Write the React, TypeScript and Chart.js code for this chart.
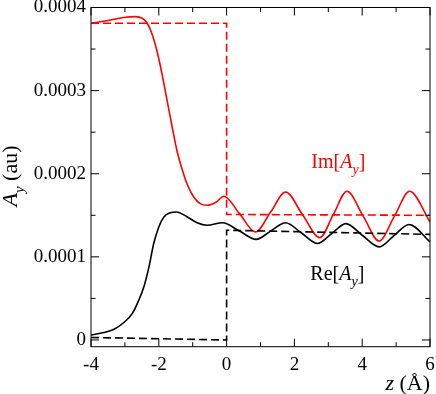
import React, { useEffect, useRef } from "react";
import { Chart, registerables } from "chart.js";

Chart.register(...registerables);

// ---- data (A_y in au, z in Angstrom) ----
const imZ = [-4, -3.42, -3.03, -2.69, -2.49, -2.34, -2.19, -2.05, -1.9, -1.75, -1.6, -1.46, -1.31, -1.16, -0.97, -0.78, -0.58, -0.3, -0.08, 0.38, 0.85, 1.3, 1.74, 2.25, 2.75, 3.15, 3.55, 4.03, 4.5, 4.95, 5.4, 6.0];
const imA = [3.81e-4, 3.85e-4, 3.88e-4, 3.89e-4, 3.87e-4, 3.81e-4, 3.67e-4, 3.47e-4, 3.19e-4, 2.87e-4, 2.55e-4, 2.27e-4, 2.05e-4, 1.87e-4, 1.72e-4, 1.64e-4, 1.62e-4, 1.66e-4, 1.73e-4, 1.52e-4, 1.3e-4, 1.54e-4, 1.78e-4, 1.5e-4, 1.23e-4, 1.51e-4, 1.79e-4, 1.49e-4, 1.19e-4, 1.49e-4, 1.79e-4, 1.42e-4];

const reZ = [-4, -3.62, -3.32, -3.03, -2.78, -2.59, -2.44, -2.29, -2.15, -2.0, -1.85, -1.66, -1.48, -1.16, -0.87, -0.58, -0.12, 0.38, 0.87, 1.3, 1.74, 2.2, 2.68, 3.1, 3.52, 4.0, 4.5, 4.95, 5.38, 6.0];
const reA = [0.06e-4, 0.09e-4, 0.13e-4, 0.21e-4, 0.32e-4, 0.48e-4, 0.64e-4, 0.88e-4, 1.16e-4, 1.36e-4, 1.48e-4, 1.53e-4, 1.54e-4, 1.48e-4, 1.41e-4, 1.38e-4, 1.41e-4, 1.31e-4, 1.21e-4, 1.31e-4, 1.41e-4, 1.29e-4, 1.16e-4, 1.28e-4, 1.4e-4, 1.26e-4, 1.12e-4, 1.26e-4, 1.39e-4, 1.18e-4];

const imStepZ = [-4, 0, 0, 6];
const imStepA = [3.81e-4, 3.81e-4, 1.51e-4, 1.5e-4];
const reStepZ = [-4, 0, 0, 6];
const reStepA = [0.03e-4, 0.0, 1.32e-4, 1.27e-4];

const xTicks = [-4, -2, 0, 2, 4, 6];
const xMinorTicks = [-3, -1, 1, 3, 5];
const yTicks = [0, 1e-4, 2e-4, 3e-4, 4e-4];
const yTickLabels = ["0", "0.0001", "0.0002", "0.0003", "0.0004"];
const yMinorTicks = [0.5e-4, 1.5e-4, 2.5e-4, 3.5e-4];

const xRange = [-4, 6];
const yRange = [-0.081e-4, 4e-4];

const imLabelPos = [2.5, 2.07e-4];
const reLabelPos = [2.47, 0.72e-4];

const SERIF = '"Liberation Serif", "DejaVu Serif", serif';

type Part = { t: string; it?: boolean; sub?: boolean };

function partFont(p: Part, size: number) {
  const s = p.sub ? Math.round(size * 0.7) : size;
  return `${p.it ? "italic " : ""}${s}px ${SERIF}`;
}

function richWidth(ctx: CanvasRenderingContext2D, parts: Part[], size: number) {
  let w = 0;
  for (const p of parts) {
    ctx.font = partFont(p, size);
    w += ctx.measureText(p.t).width;
  }
  return w;
}

function drawRich(ctx: CanvasRenderingContext2D, parts: Part[], x: number, y: number, size: number, color: string) {
  ctx.fillStyle = color;
  ctx.textBaseline = "alphabetic";
  ctx.textAlign = "left";
  let cx = x;
  for (const p of parts) {
    ctx.font = partFont(p, size);
    ctx.fillText(p.t, cx, p.sub ? y + size * 0.3 : y);
    cx += ctx.measureText(p.t).width;
  }
}

const framePlugin = {
  id: "framePlugin",
  afterDraw(chart: any) {
    const ctx: CanvasRenderingContext2D = chart.ctx;
    const { left, right, top, bottom } = chart.chartArea;
    const xs = chart.scales.x;
    const ys = chart.scales.y;
    ctx.save();
    ctx.strokeStyle = "#000";
    ctx.lineWidth = 1;
    ctx.strokeRect(left, top, right - left, bottom - top);
    ctx.beginPath();
    const major = 8;
    const minor = 4.5;
    for (const v of xTicks) {
      const px = xs.getPixelForValue(v);
      ctx.moveTo(px, bottom); ctx.lineTo(px, bottom - major);
      ctx.moveTo(px, top); ctx.lineTo(px, top + major);
    }
    for (const v of xMinorTicks) {
      const px = xs.getPixelForValue(v);
      ctx.moveTo(px, bottom); ctx.lineTo(px, bottom - minor);
      ctx.moveTo(px, top); ctx.lineTo(px, top + minor);
    }
    for (const v of yTicks) {
      const py = ys.getPixelForValue(v);
      ctx.moveTo(left, py); ctx.lineTo(left + major, py);
      ctx.moveTo(right, py); ctx.lineTo(right - major, py);
    }
    for (const v of yMinorTicks) {
      const py = ys.getPixelForValue(v);
      ctx.moveTo(left, py); ctx.lineTo(left + minor, py);
      ctx.moveTo(right, py); ctx.lineTo(right - minor, py);
    }
    ctx.stroke();

    // series labels
    const imParts: Part[] = [{ t: "Im[" }, { t: "A", it: true }, { t: "y", it: true, sub: true }, { t: "]" }];
    const reParts: Part[] = [{ t: "Re[" }, { t: "A", it: true }, { t: "y", it: true, sub: true }, { t: "]" }];
    drawRich(ctx, imParts, xs.getPixelForValue(imLabelPos[0]), ys.getPixelForValue(imLabelPos[1]), 20, "#ff0000");
    drawRich(ctx, reParts, xs.getPixelForValue(reLabelPos[0]), ys.getPixelForValue(reLabelPos[1]), 20, "#000");

    // x title
    const xParts: Part[] = [{ t: "z", it: true }, { t: " (Å)" }];
    const xw = richWidth(ctx, xParts, 22);
    drawRich(ctx, xParts, right - xw, 390, 22, "#000");

    // y title
    const yParts: Part[] = [{ t: "A", it: true }, { t: "y", it: true, sub: true }, { t: " (au)" }];
    const yw = richWidth(ctx, yParts, 22);
    ctx.translate(17, 176);
    ctx.rotate(-Math.PI / 2);
    drawRich(ctx, yParts, -yw / 2, 0, 22, "#000");
    ctx.restore();
  },
};

function pts(xs: number[], ys: number[]) {
  return xs.map((x, i) => ({ x, y: ys[i] }));
}

function zeroPad(s: any) {
  s.paddingTop = 0;
  s.paddingBottom = 0;
  s.paddingLeft = 0;
  s.paddingRight = 0;
}

export default function App() {
  const ref = useRef<HTMLCanvasElement | null>(null);
  useEffect(() => {
    if (!ref.current) return;
    const tickFont = { family: SERIF, size: 19 };
    const chart = new Chart(ref.current, {
      type: "scatter",
      data: {
        datasets: [
          {
            data: pts(imStepZ, imStepA),
            showLine: true,
            borderColor: "#ff0000",
            borderWidth: 1.6,
            borderDash: [8, 4],
            tension: 0,
            pointRadius: 0,
          },
          {
            data: pts(reStepZ, reStepA),
            showLine: true,
            borderColor: "#000",
            borderWidth: 1.6,
            borderDash: [8, 4],
            tension: 0,
            pointRadius: 0,
          },
          {
            data: pts(imZ, imA),
            showLine: true,
            borderColor: "#ff0000",
            borderWidth: 1.6,
            cubicInterpolationMode: "monotone",
            pointRadius: 0,
          },
          {
            data: pts(reZ, reA),
            showLine: true,
            borderColor: "#000",
            borderWidth: 1.6,
            cubicInterpolationMode: "monotone",
            pointRadius: 0,
          },
        ] as any,
      },
      options: {
        animation: false,
        responsive: false,
        maintainAspectRatio: false,
        layout: { padding: { top: 7.5, right: 6, left: 0, bottom: 0 } },
        plugins: { legend: { display: false }, tooltip: { enabled: false } },
        scales: {
          x: {
            type: "linear",
            min: xRange[0],
            max: xRange[1],
            grid: { display: false, drawTicks: false },
            border: { display: false },
            ticks: { font: tickFont, color: "#000", padding: 7, autoSkip: false, maxRotation: 0 },
            afterBuildTicks: (s: any) => {
              s.ticks = xTicks.map((v) => ({ value: v }));
            },
            afterFit: (s: any) => {
              s.height = 47.3;
              zeroPad(s);
            },
          },
          y: {
            type: "linear",
            min: yRange[0],
            max: yRange[1],
            grid: { display: false, drawTicks: false },
            border: { display: false },
            ticks: {
              font: tickFont,
              color: "#000",
              padding: 5,
              autoSkip: false,
              callback: (v: any) => {
                const i = yTicks.findIndex((t) => Math.abs(t - Number(v)) < 1e-9);
                return i >= 0 ? yTickLabels[i] : "";
              },
            },
            afterBuildTicks: (s: any) => {
              s.ticks = yTicks.map((v) => ({ value: v }));
            },
            afterFit: (s: any) => {
              s.width = 91;
              zeroPad(s);
            },
          },
        },
      } as any,
      plugins: [framePlugin],
    });
    return () => chart.destroy();
  }, []);
  return (
    <div style={{ position: "absolute", left: 0, top: 0, width: 436, height: 394, background: "#fff" }}>
      <canvas ref={ref} width={436} height={394} />
    </div>
  );
}
